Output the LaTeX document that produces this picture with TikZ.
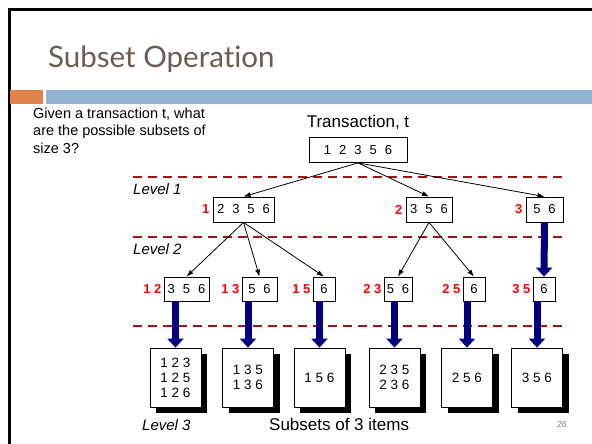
\documentclass[tikz,border=0pt]{standalone}
\usepackage{fontspec}
\setmainfont{Liberation Sans}
\newfontfamily\titlefont[Ligatures={NoCommon,NoRare}]{Lato}
\usetikzlibrary{arrows.meta,shadows}

\definecolor{titlegray}{RGB}{110,90,80}
\definecolor{barorange}{RGB}{224,131,74}
\definecolor{barblue}{RGB}{147,180,210}
\definecolor{levelred}{RGB}{160,20,20}
\definecolor{arrownavy}{RGB}{0,0,128}
\definecolor{pagenum}{RGB}{140,110,90}

\begin{document}
\begin{tikzpicture}[x=1pt,y=-1pt,
  digitbox/.style={draw, line width=0.8pt, inner sep=0pt, minimum height=25pt,
    font={\fontsize{13}{15}\selectfont\spaceskip 8pt\relax}},
  leafbox/.style={draw, line width=0.8pt, fill=white, inner sep=0pt,
    minimum width=51pt, minimum height=59pt, align=center,
    font=\fontsize{13.5}{15}\selectfont,
    drop shadow={shadow xshift=6pt, shadow yshift=-6pt, fill=black, opacity=1}},
  prefixlabel/.style={anchor=east, inner sep=0pt, text=red,
    font=\fontsize{13}{15}\selectfont\bfseries},
  levellabel/.style={anchor=base west, inner sep=0pt,
    font=\fontsize{15}{17}\selectfont\itshape},
  levelline/.style={levelred, line width=1.3pt, dash pattern=on 9pt off 6pt},
  thinarrow/.style={line width=0.8pt, -{Latex[length=7pt,width=5pt]}},
  blockarrow/.style={arrownavy, line width=7pt, -{Triangle[width=16pt,length=9pt]}}
]
\useasboundingbox (0,0) rectangle (592,444);
\fill[white] (0,0) rectangle (592,444);

% slide frame and header bars
\draw[line width=2.5pt] (9.5,444) -- (9.5,9.3) -- (592,9.3);
\fill[barorange] (10,90) rectangle (43,104);
\fill[barblue] (46,90) rectangle (592,104);

% title and question
\node[anchor=base west, inner sep=0pt, text=titlegray,
  font=\titlefont\fontsize{29.5}{32}\selectfont] (title) at (48,67) {Subset Operation};
\node[anchor=north west, inner sep=0pt, align=left,
  font=\fontsize{14.5}{17.5}\selectfont] (question) at (33,107.5)
  {Given a transaction t, what\\are the possible subsets of\\size 3?};

% level separators
\draw[levelline] (133,177) -- (566,177);
\draw[levelline] (133,237) -- (566,237);
\draw[levelline] (133,326) -- (566,326);

\node[levellabel] (lv1) at (133,194) {Level 1};
\node[levellabel] (lv2) at (133,254) {Level 2};
\node[levellabel] (lv3) at (142,430) {Level 3};

% transaction
\node[anchor=base, inner sep=0pt, font=\fontsize{17}{20}\selectfont] (tlabel) at (358,128) {Transaction, t};
\node[digitbox, minimum width=98pt] (T) at (358,150) {1 2 3 5 6};

% level 1
\node[digitbox, minimum width=61pt] (B1) at (243.5,209.5) {2 3 5 6};
\node[digitbox, minimum width=46pt] (B2) at (429,209.5) {3 5 6};
\node[digitbox, minimum width=37pt] (B3) at (544.5,209.5) {5 6};
\node[prefixlabel] (p1) at ([xshift=-3pt]B1.west) {1};
\node[prefixlabel] (p2) at ([xshift=-3pt]B2.west) {2};
\node[prefixlabel] (p3) at ([xshift=-3pt]B3.west) {3};

% level 2
\node[digitbox, minimum width=45pt, minimum height=24pt] (C1) at (186.5,289) {3 5 6};
\node[digitbox, minimum width=35pt, minimum height=24pt] (C2) at (259.5,289) {5 6};
\node[digitbox, minimum width=22pt, minimum height=24pt] (C3) at (324,289) {6};
\node[digitbox, minimum width=28pt, minimum height=24pt] (C4) at (398,289) {5 6};
\node[digitbox, minimum width=22pt, minimum height=24pt] (C5) at (474,289) {6};
\node[digitbox, minimum width=22pt, minimum height=24pt] (C6) at (544,289) {6};
\node[prefixlabel] (q1) at ([xshift=-2pt]C1.west) {1 2};
\node[prefixlabel] (q2) at ([xshift=-2pt]C2.west) {1 3};
\node[prefixlabel] (q3) at ([xshift=-2pt]C3.west) {1 5};
\node[prefixlabel] (q4) at ([xshift=-2pt]C4.west) {2 3};
\node[prefixlabel] (q5) at ([xshift=-2pt]C5.west) {2 5};
\node[prefixlabel] (q6) at ([xshift=-2pt]C6.west) {3 5};

% level 3 buckets
\node[leafbox] (D1) at (175.5,377.5) {1 2 3\\1 2 5\\1 2 6};
\node[leafbox] (D2) at (248,377.5) {1 3 5\\1 3 6};
\node[leafbox] (D3) at (319.5,377.5) {1 5 6};
\node[leafbox] (D4) at (394.5,377.5) {2 3 5\\2 3 6};
\node[leafbox] (D5) at (467,377.5) {2 5 6};
\node[leafbox] (D6) at (537,377.5) {3 5 6};

% connectors
\draw[thinarrow] (T.south) -- (B1.north);
\draw[thinarrow] (T.south) -- (B2.north);
\draw[thinarrow] (T.south) -- (B3.north);
\draw[thinarrow] (B1.south) -- (C1.north);
\draw[thinarrow] (B1.south) -- (C2.north);
\draw[thinarrow] (B1.south) -- (C3.north);
\draw[thinarrow] (B2.south) -- (C4.north);
\draw[thinarrow] (B2.south) -- (C5.north);
\draw[blockarrow] (B3.south) -- (C6.north);
\draw[blockarrow] (D1.north |- C1.south) -- (D1.north);
\draw[blockarrow] (D2.north |- C2.south) -- (D2.north);
\draw[blockarrow] (D3.north |- C3.south) -- (D3.north);
\draw[blockarrow] (D4.north |- C4.south) -- (D4.north);
\draw[blockarrow] (D5.north |- C5.south) -- (D5.north);
\draw[blockarrow] (D6.north |- C6.south) -- (D6.north);

% footer
\node[anchor=base west, inner sep=0pt, font=\fontsize{17}{20}\selectfont] (caption) at (269,430) {Subsets of 3 items};
\node[anchor=base west, inner sep=0pt, text=pagenum, font=\fontsize{8.5}{10}\selectfont] (page) at (557,427) {26};
\end{tikzpicture}
\end{document}
